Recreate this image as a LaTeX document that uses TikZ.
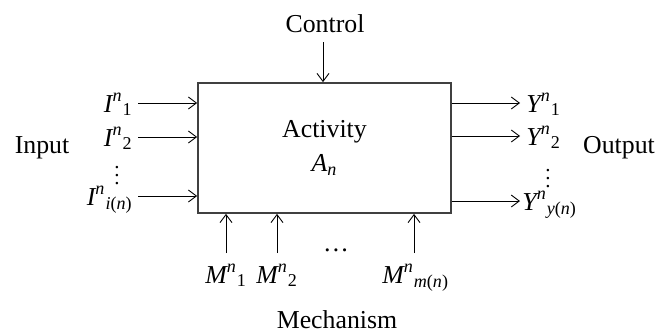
\documentclass[tikz,border=0pt]{standalone}
\usepackage{fontspec}
\usepackage{amsmath}
\setmainfont{Liberation Serif}
\usetikzlibrary{arrows.meta}
\newcommand{\flowsym}[3]{$\text{\itshape #1}^{\text{\itshape #2}}{}_{\text{#3}}$}

\begin{document}
\begin{tikzpicture}[
    x=0.5pt, y=-0.5pt,
    font=\fontsize{12.9}{15}\selectfont,
    activity/.style={draw=black!75, line width=0.9pt, minimum width=126.5pt, minimum height=65pt, align=center},
    flow/.style={-{Straight Barb[length=4pt,width=6pt]}, line width=0.45pt},
    sym/.style={inner sep=0pt},
    vdot/.style={inner sep=0pt, font=\fontsize{10.5}{10.5}\selectfont}
]
    \useasboundingbox (0,0) rectangle (668,333);
    \node[activity] (act) at (324.5,148) {Activity\\[2pt]$\text{\itshape A}_{\text{\itshape n}}$};

    % control
    \node[anchor=base] (ctrl) at (325,32) {Control};
    \coordinate (c1) at (323,42);
    \draw[flow] (c1) -- (c1 |- act.north);

    % inputs
    \coordinate (i1) at (138,103);
    \coordinate (i2) at (138,137);
    \coordinate (i3) at (138,196);
    \draw[flow] (i1) -- (i1 -| act.west);
    \draw[flow] (i2) -- (i2 -| act.west);
    \draw[flow] (i3) -- (i3 -| act.west);
    \node[sym, anchor=base east] (li1) at ([shift={(-5,9)}]i1) {\flowsym{I}{n}{1}};
    \node[sym, anchor=base east] (li2) at ([shift={(-5,9)}]i2) {\flowsym{I}{n}{2}};
    \node[sym, anchor=base east] (li3) at ([shift={(-5,9)}]i3) {\flowsym{I}{n}{{\itshape i}({\itshape n})}};
    \node[vdot] (idots) at (117,170) {$\vdots$};
    \node[anchor=base] (input) at (42,153) {Input};

    % outputs
    \coordinate (o1) at (520,103);
    \coordinate (o2) at (520,136);
    \coordinate (o3) at (520,201);
    \draw[flow] (o1 -| act.east) -- (o1);
    \draw[flow] (o2 -| act.east) -- (o2);
    \draw[flow] (o3 -| act.east) -- (o3);
    \node[sym, anchor=base west] (lo1) at ([shift={(6,9)}]o1) {\flowsym{Y}{n}{1}};
    \node[sym, anchor=base west] (lo2) at ([shift={(6,9)}]o2) {\flowsym{Y}{n}{2}};
    \node[sym, anchor=base west] (lo3) at ([shift={(2,9)}]o3) {\flowsym{Y}{n}{{\itshape y}({\itshape n})}};
    \node[vdot] (odots) at (548,173) {$\vdots$};
    \node[anchor=base] (output) at (619,153) {Output};

    % mechanisms
    \coordinate (m1) at (226,253);
    \coordinate (m2) at (277,253);
    \coordinate (m3) at (414,253);
    \draw[flow] (m1) -- (m1 |- act.south);
    \draw[flow] (m2) -- (m2 |- act.south);
    \draw[flow] (m3) -- (m3 |- act.south);
    \node[sym, anchor=base west] (lm1) at ([shift={(-21,30)}]m1) {\flowsym{M}{n}{1}};
    \node[sym, anchor=base west] (lm2) at ([shift={(-21,30)}]m2) {\flowsym{M}{n}{2}};
    \node[sym, anchor=base west] (lm3) at ([shift={(-32,30)}]m3) {\flowsym{M}{n}{{\itshape m}({\itshape n})}};
    \node (mdots) at (336,250) {\dots};
    \node[anchor=base] (mech) at (337,328) {Mechanism};
\end{tikzpicture}
\end{document}
